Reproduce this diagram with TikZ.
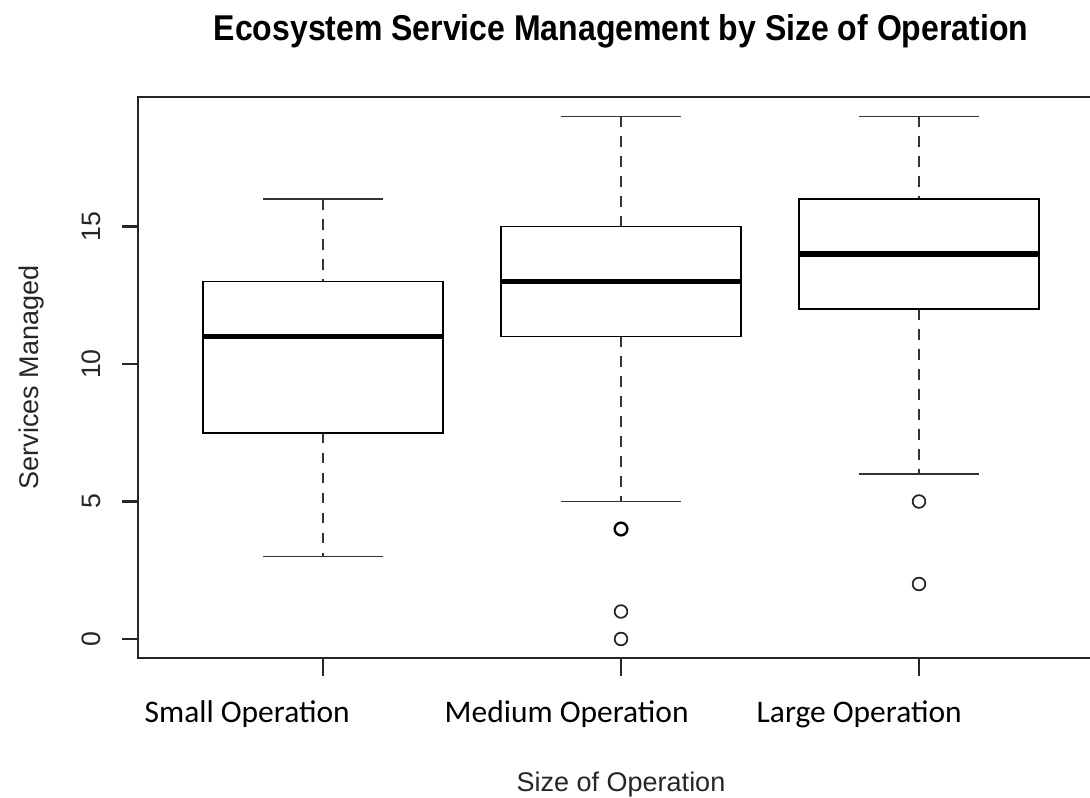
\documentclass[tikz,border=0pt]{standalone}
\usepackage{fontspec}
\setmainfont{Liberation Sans}
\newfontfamily\catfont{Carlito}
\begin{document}
\begin{tikzpicture}[x=0.75pt,y=-0.75pt,
  frameline/.style={line width=1.3pt, black!85},
  axisline/.style={line width=1.6pt, black!85},
  boxline/.style={line width=1.3pt, black},
  medline/.style={line width=3.8pt, black},
  whisk/.style={line width=1.3pt, black!80, dash pattern=on 8pt off 7pt},
  capline/.style={line width=1.4pt, black!80},
  outlier/.style={circle, draw=black!85, line width=1.3pt, inner sep=0pt, minimum size=9.5pt},
  ticklab/.style={rotate=90, anchor=base, font=\fontsize{20}{24}\selectfont, text=black!85},
  axlab/.style={anchor=base, font=\fontsize{20.25}{24}\selectfont, text=black!85},
  catlab/.style={anchor=base west, font=\catfont\fontsize{23.6}{28}\selectfont, text=black}]
\useasboundingbox (0,0) rectangle (1090,798);
\fill[white] (0,0) rectangle (1090,798);

% plot frame (its right side lies past the page edge)
\draw[frameline] (138,97.3) rectangle (1104,658);

% boxes: centre / lower whisker / Q1 / median / Q3 / upper whisker
\foreach \cx/\lo/\qa/\md/\qb/\hi in {323/3/7.5/11/13/16, 621/5/11/13/15/19, 919/6/12/14/16/19}{
  \draw[whisk] (\cx,{639-27.5*\hi}) -- (\cx,{639-27.5*\qb});
  \draw[whisk] (\cx,{639-27.5*\qa}) -- (\cx,{639-27.5*\lo});
  \draw[capline] ({\cx-60},{639-27.5*\hi}) -- ({\cx+60},{639-27.5*\hi});
  \draw[capline] ({\cx-60},{639-27.5*\lo}) -- ({\cx+60},{639-27.5*\lo});
  \draw[boxline, fill=white] ({\cx-120},{639-27.5*\qb}) rectangle ({\cx+120},{639-27.5*\qa});
  \draw[medline] ({\cx-120},{639-27.5*\md}) -- ({\cx+120},{639-27.5*\md});
}

% outliers (the value 4 occurs twice, so its ring is darker)
\node[outlier, line width=1.8pt, draw=black] (out1) at (621,{639-27.5*4}) {};
\foreach \cx/\v [count=\i from 2] in {621/1, 621/0, 919/5, 919/2}
  \node[outlier] (out\i) at (\cx,{639-27.5*\v}) {};

% y axis
\draw[axisline] (138,639) -- (138,{639-27.5*15});
\foreach \v in {0,5,10,15}{
  \draw[axisline] (122,{639-27.5*\v}) -- (138,{639-27.5*\v});
  \node[ticklab] (ytick\v) at (100,{639-27.5*\v}) {\v};
}

% x axis
\draw[axisline] (323,658) -- (919,658);
\foreach \cx in {323,621,919}
  \draw[axisline] (\cx,658) -- (\cx,676);

% category labels
\node[catlab] (catS) at (140,722) {Small Operation};
\node[catlab] (catM) at (440,722) {Medium Operation};
\node[catlab] (catL) at (752,722) {Large Operation};

% axis titles
\node[axlab] (xlab) at (621,791.5) {Size of Operation};
\node[axlab, rotate=90] (ylab) at (38,377.5) {Services Managed};

% main title
\node[anchor=base, yscale=1.12, transform shape, font=\bfseries\fontsize{24}{28}\selectfont] (title) at (621,41)
  {Ecosystem Service Management by Size of Operation};
\end{tikzpicture}
\end{document}
